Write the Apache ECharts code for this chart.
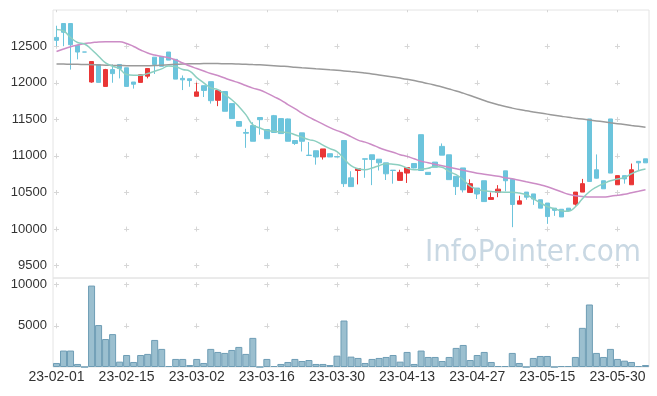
<!DOCTYPE html>
<html><head><meta charset="utf-8">
<script src="https://cdn.jsdelivr.net/npm/echarts@6/dist/echarts.min.js"></script>
<style>html,body{margin:0;padding:0;background:#fff}#c{width:657px;height:396px}</style>
</head><body><div id="c"></div>
<script>
const dates = ['23-02-01','23-02-02','23-02-03','23-02-06','23-02-07','23-02-08','23-02-09','23-02-10','23-02-13','23-02-14',
'23-02-15','23-02-16','23-02-17','23-02-20','23-02-21','23-02-22','23-02-23','23-02-24','23-02-27','23-02-28',
'23-03-02','23-03-03','23-03-06','23-03-07','23-03-08','23-03-09','23-03-10','23-03-13','23-03-14','23-03-15',
'23-03-16','23-03-17','23-03-20','23-03-21','23-03-22','23-03-23','23-03-24','23-03-27','23-03-28','23-03-29',
'23-03-30','23-03-31','23-04-03','23-04-04','23-04-05','23-04-06','23-04-07','23-04-10','23-04-11','23-04-12',
'23-04-13','23-04-14','23-04-17','23-04-18','23-04-19','23-04-20','23-04-21','23-04-24','23-04-25','23-04-26',
'23-04-27','23-04-28','23-05-02','23-05-03','23-05-04','23-05-08','23-05-09','23-05-10','23-05-11','23-05-12',
'23-05-15','23-05-16','23-05-17','23-05-18','23-05-19','23-05-22','23-05-23','23-05-24','23-05-25','23-05-26',
'23-05-30','23-05-31','23-06-01','23-06-02','23-06-05'];

const opens = [12620,12810,12810,12510,12420,12010,12250,11950,12180,12250,
12205,12010,12005,12090,12350,12360,12420,12320,12060,12055,
11815,11960,12015,11760,11880,11715,11470,11320,11415,11525,
11360,11550,11510,11505,11210,11315,11010,11070,10985,11030,
10990,11210,10700,10800,10960,11015,10955,10905,10805,10665,
10765,10895,11290,10775,10915,11130,11015,10720,10835,10500,
10560,10660,10405,10500,10795,10680,10340,10505,10480,10400,
10355,10285,10270,10285,10340,10505,11505,10810,10660,11505,
10605,10730,10605,10925,10960];
const closes = [12580,12690,12520,12420,12420,12290,12005,12180,12125,12195,
11950,11980,12110,12195,12250,12225,12310,12050,12040,12030,
11875,11895,11755,11895,11610,11510,11405,11310,11200,11495,
11235,11320,11305,11200,11170,11200,11005,10985,11095,10985,
10985,10620,10580,10825,10955,10950,10905,10755,10800,10775,
10840,10835,10800,10745,10845,11010,10675,10580,10535,10620,
10480,10375,10430,10545,10660,10335,10385,10435,10410,10285,
10170,10255,10165,10250,10505,10620,10650,10695,10550,10765,
10730,10685,10810,10905,10905];
const lows = [12500,12500,12180,12320,12420,12000,12005,11950,12000,12060,
11950,11920,12005,12060,12120,12225,12310,12050,11900,11945,
11815,11805,11715,11680,11610,11510,11400,11110,11200,11290,
11235,11320,11305,11200,11150,11060,11000,10880,10950,10985,
10985,10575,10575,10610,10700,10600,10800,10670,10620,10665,
10630,10830,10800,10745,10845,11010,10675,10465,10500,10500,
10410,10375,10405,10435,10515,10025,10340,10400,10330,10285,
10070,10180,10165,10250,10320,10505,10650,10690,10550,10765,
10605,10620,10605,10800,10905];
const highs = [12780,12810,12810,12520,12420,12290,12250,12190,12250,12250,
12205,12010,12110,12195,12350,12360,12420,12320,12100,12055,
12000,11960,12015,11895,11880,11715,11470,11370,11460,11525,
11360,11560,11510,11510,11210,11315,11190,11070,11095,11030,
10990,11210,10790,10825,10960,11015,10955,10905,10805,10810,
10840,10900,11290,10775,10915,11170,11015,10720,10835,10680,
10560,10660,10500,10600,10795,10680,10455,10505,10480,10400,
10355,10285,10270,10285,10505,10685,11505,11020,10660,11505,
10730,10730,10895,10925,10960];
const volumes = [490,2000,2000,370,0,9900,5100,3400,4000,650,
1460,610,1460,1590,3290,2200,120,980,980,240,
980,490,2200,1830,1710,2070,2440,1590,3540,0,
980,120,370,610,980,730,850,370,370,240,
1380,5650,1260,1100,490,980,1100,1220,1460,650,
1830,370,2000,1220,1220,730,1220,2320,2680,850,
1460,1830,610,120,120,1710,490,0,1100,1340,
1340,0,120,120,1220,4760,7600,1710,1220,2200,
980,770,610,120,240];
const ma5 = [12729,12708,12619,12551,12530,12455,12363,12273,12226,12190,
12112,12103,12103,12126,12158,12190,12230,12220,12181,12158,
12071,11999,11930,11907,11838,11768,11676,11564,11426,11382,
11349,11336,11325,11318,11290,11256,11222,11199,11147,11099,
11058,10962,10866,10825,10811,10834,10866,10893,10886,10872,
10834,10811,10818,10831,10856,10845,10784,10743,10674,10585,
10544,10523,10514,10505,10503,10503,10492,10469,10414,10359,
10308,10277,10250,10242,10304,10414,10509,10574,10619,10660,
10683,10705,10756,10797,10820];
const ma20 = [12427,12462,12492,12516,12537,12547,12558,12560,12560,12560,
12537,12496,12448,12407,12379,12359,12341,12311,12270,12229,
12194,12160,12126,12099,12064,12030,11999,11962,11927,11900,
11859,11811,11763,11701,11646,11585,11530,11482,11434,11386,
11345,11310,11263,11215,11188,11153,11112,11078,11050,11016,
10993,10961,10927,10907,10886,10866,10845,10825,10804,10783,
10763,10749,10735,10722,10701,10687,10667,10646,10626,10605,
10578,10544,10509,10475,10454,10445,10438,10437,10437,10448,
10461,10475,10496,10516,10537];
const ma120 = [12256,12255,12253,12252,12249,12247,12244,12241,12238,12236,
12233,12231,12231,12233,12236,12241,12247,12252,12256,12259,
12260,12262,12262,12262,12260,12259,12256,12253,12249,12245,
12240,12234,12227,12221,12212,12204,12197,12190,12184,12177,
12170,12162,12153,12144,12133,12121,12107,12093,12079,12064,
12048,12030,12009,11988,11965,11941,11915,11888,11858,11826,
11792,11758,11727,11699,11674,11653,11633,11616,11601,11586,
11571,11556,11541,11527,11515,11503,11490,11478,11466,11453,
11441,11429,11416,11404,11392];
const priceRange = [9330, 12995];
const volumeRange = [0, 10820];
const watermark = 'InfoPointer.com';

const candles = dates.map((d, i) => [opens[i], closes[i], lows[i], highs[i]]);
const UP = '#e93636', DOWN = '#6cc4dc';
const plain = v => String(v);
const labelStyle = {color: '#333', fontFamily: 'Liberation Sans, Arial, sans-serif', fontSize: 13};
const crossH = {color: '#d6d6d6', width: 1, type: [5, 65.12], dashOffset: 69.12};

const chart = echarts.init(document.getElementById('c'));
chart.setOption({
  animation: false,
  backgroundColor: '#fff',
  grid: [
    {left: 53, right: 8, top: 10, height: 268, show: true, borderColor: '#e4e4e4', borderWidth: 1, backgroundColor: 'transparent'},
    {left: 53, right: 8, top: 278, height: 89, show: true, borderColor: '#e4e4e4', borderWidth: 1, backgroundColor: 'transparent'}
  ],
  xAxis: [
    {type: 'category', gridIndex: 0, data: dates, boundaryGap: true,
      axisLine: {show: false}, axisTick: {show: false}, axisLabel: {show: false},
      splitLine: {show: true, interval: 9, alignWithLabel: true,
        lineStyle: {color: '#d6d6d6', width: 1, type: [5, 31.56], dashOffset: 2.76}}},
    {type: 'category', gridIndex: 1, data: dates, boundaryGap: true,
      axisLine: {show: false}, axisTick: {show: false},
      axisLabel: Object.assign({}, labelStyle, {interval: 9, fontSize: 14, margin: 3}),
      splitLine: {show: true, interval: 9, alignWithLabel: true,
        lineStyle: {color: '#d6d6d6', width: 1, type: [5, 36.13], dashOffset: 36.88}}}
  ],
  yAxis: [
    {type: 'value', gridIndex: 0, min: priceRange[0], max: priceRange[1], splitNumber: 7,
      axisLine: {show: false}, axisTick: {show: false},
      axisLabel: Object.assign({}, labelStyle, {showMinLabel: false, showMaxLabel: false, margin: 6, formatter: plain}),
      splitLine: {show: true, showMinLine: false, showMaxLine: false, lineStyle: crossH}},
    {type: 'value', gridIndex: 1, min: volumeRange[0], max: volumeRange[1], interval: 5000,
      axisLine: {show: false}, axisTick: {show: false},
      axisLabel: Object.assign({}, labelStyle, {showMinLabel: false, showMaxLabel: false, margin: 6, formatter: plain}),
      splitLine: {show: true, showMinLine: false, showMaxLine: false, lineStyle: crossH}}
  ],
  graphic: [{
    type: 'text', right: 16, top: 237, silent: true, z: 0,
    style: {text: watermark, fill: '#c9d8e3', font: '31px "DejaVu Sans Condensed", "Liberation Sans Narrow", sans-serif'}
  }],
  series: [
    {type: 'candlestick', xAxisIndex: 0, yAxisIndex: 0, data: candles, barWidth: 5,
      itemStyle: {color: UP, color0: DOWN, borderColor: UP, borderColor0: DOWN, borderColorDoji: DOWN, borderWidth: 1}},
    {type: 'line', xAxisIndex: 0, yAxisIndex: 0, data: ma120, symbol: 'none', smooth: true,
      lineStyle: {color: '#9a9a9a', width: 1.5}},
    {type: 'line', xAxisIndex: 0, yAxisIndex: 0, data: ma20, symbol: 'none', smooth: true,
      lineStyle: {color: '#cc8cc6', width: 1.5}},
    {type: 'line', xAxisIndex: 0, yAxisIndex: 0, data: ma5, symbol: 'none', smooth: true,
      lineStyle: {color: '#8ccfc0', width: 1.5}},
    {type: 'bar', xAxisIndex: 1, yAxisIndex: 1, data: volumes, barWidth: '100%',
      itemStyle: {color: '#9bbfcf', borderColor: '#6e9db5', borderWidth: 1}}
  ]
});
</script></body></html>
